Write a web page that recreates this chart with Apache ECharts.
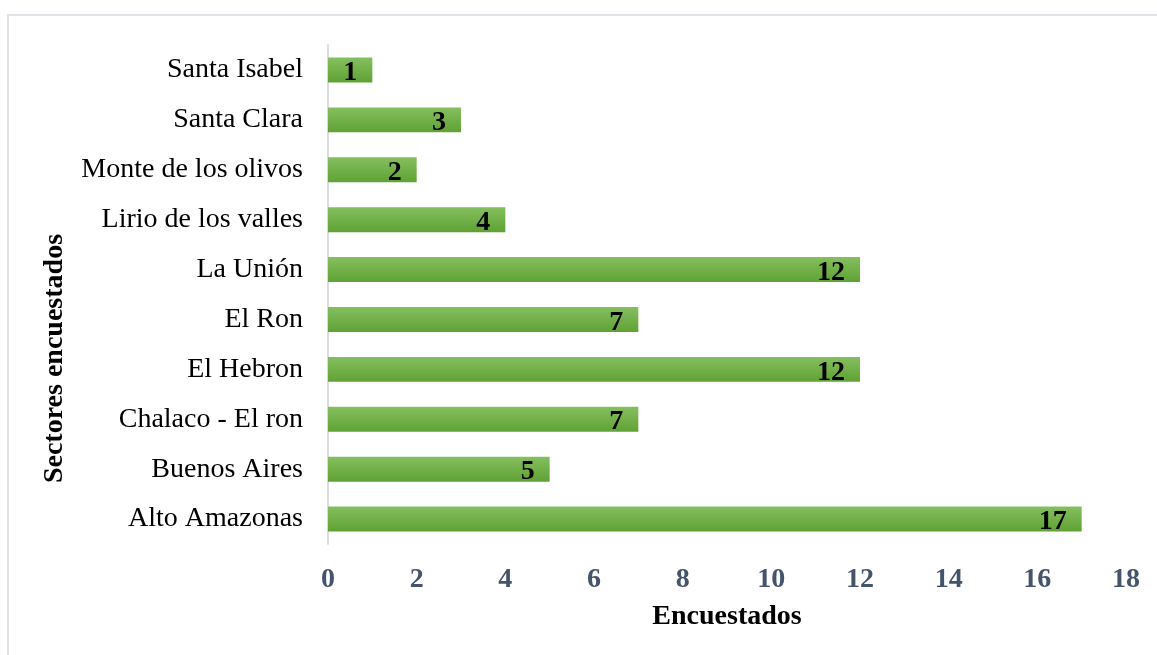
<!DOCTYPE html>
<html>
<head>
<meta charset="utf-8">
<script src="https://cdn.jsdelivr.net/npm/echarts@6/dist/echarts.min.js"></script>
<style>html,body{margin:0;padding:0;background:#fff;}#c{width:1157px;height:655px;}</style>
</head>
<body>
<div id="c"></div>
<script>
var categories = ["Alto Amazonas","Buenos Aires","Chalaco - El ron","El Hebron","El Ron","La Unión","Lirio de los valles","Monte de los olivos","Santa Clara","Santa Isabel"];
var values = [17,5,7,12,7,12,4,2,3,1];
var xTicks = {min:0, max:18, interval:2};
var xTitle = "Encuestados";
var yTitle = "Sectores encuestados";

var serif = "'Liberation Serif','Times New Roman',serif";
var chart = echarts.init(document.getElementById('c'));
chart.setOption({
  animation:false,
  backgroundColor:'#fff',
  graphic:[{type:'rect',silent:true,shape:{x:8,y:15,width:1300,height:800},style:{fill:'none',stroke:'#dfe3e8',lineWidth:2}}],
  grid:{left:328,right:31,top:45,bottom:111},
  xAxis:{type:'value',min:xTicks.min,max:xTicks.max,interval:xTicks.interval,
    name:xTitle,nameLocation:'middle',nameGap:59,
    nameTextStyle:{fontFamily:serif,fontWeight:'bold',fontSize:28,color:'#000'},
    axisLine:{show:false},axisTick:{show:false},splitLine:{show:false},
    axisLabel:{fontFamily:serif,fontWeight:'bold',fontSize:28,color:'#44546a',margin:22}},
  yAxis:{type:'category',data:categories,
    name:yTitle,nameLocation:'middle',nameGap:259,nameRotate:90,
    nameTextStyle:{fontFamily:serif,fontWeight:'bold',fontSize:28,color:'#000',padding:[0,128,0,0]},
    axisLine:{show:true,lineStyle:{color:'#d9dde3',width:2}},axisTick:{show:false},
    axisLabel:{fontFamily:serif,fontSize:28,color:'#000',margin:25}},
  series:[{type:'bar',data:values,barWidth:'50%',
    itemStyle:{color:new echarts.graphic.LinearGradient(0,0,0,1,[{offset:0,color:'#85bf5f'},{offset:1,color:'#5fa234'}])},
    label:{show:true,position:'insideRight',distance:15,fontFamily:serif,fontWeight:'bold',fontSize:28,color:'#000',offset:[0,3]}}]
});
</script>
</body>
</html>
